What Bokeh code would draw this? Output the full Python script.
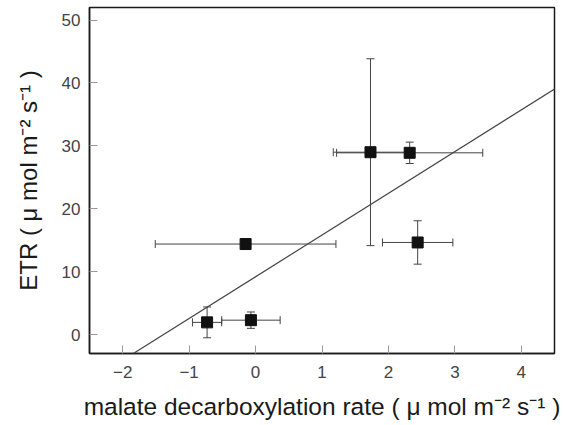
from bokeh.plotting import figure
from bokeh.models import ColumnDataSource, Whisker, TeeHead, Slope, FixedTicker, Range1d
from bokeh.embed import file_html
from bokeh.resources import INLINE

# data
x_rate = [-0.73, -0.07, -0.15, 1.73, 2.32, 2.44]
etr = [1.95, 2.3, 14.4, 29.0, 28.9, 14.65]
x_err = [0.22, 0.44, 1.36, 0.56, 1.1, 0.53]
y_err = [2.45, 1.3, 0.0, 14.85, 1.7, 3.45]
fit_slope = 6.63
fit_intercept = 9.2
x_ticks = [-2, -1, 0, 1, 2, 3, 4]
y_ticks = [0, 10, 20, 30, 40, 50]

FONT = "Liberation Sans"

p = figure(width=564, height=425, output_backend="svg", toolbar_location=None,
           x_range=Range1d(-2.5, 4.5), y_range=Range1d(-3, 52),
           min_border_left=89, min_border_right=10, min_border_top=7, min_border_bottom=72)
p.grid.visible = False
p.background_fill_color = "white"
p.border_fill_color = "white"
p.outline_line_color = "#1a1a1a"
p.outline_line_width = 1.5

for ax in (p.xaxis, p.yaxis):
    ax.axis_line_color = "#1a1a1a"
    ax.axis_line_width = 1.5
    ax.major_tick_in = 8
    ax.major_tick_out = 0
    ax.major_tick_line_color = "#999999"
    ax.minor_tick_line_color = None
    ax.major_label_text_font = FONT
    ax.major_label_text_font_size = "17px"
    ax.major_label_text_color = "#444444"
    ax.axis_label_text_font = FONT
    ax.axis_label_text_font_style = "normal"
    ax.axis_label_text_color = "#1a1a1a"

p.xaxis.axis_label_text_font_size = "24.5px"
p.yaxis.axis_label_text_font_size = "24px"
p.xaxis.ticker = FixedTicker(ticks=x_ticks)
p.yaxis.ticker = FixedTicker(ticks=y_ticks)
p.xaxis.major_label_standoff = 12
p.yaxis.major_label_standoff = 9
p.xaxis.axis_label = "malate decarboxylation rate ( \u03bc mol m\u207b\u00b2 s\u207b\u00b9 )"
p.yaxis.axis_label = "ETR ( \u03bc mol m\u207b\u00b2 s\u207b\u00b9 )"
p.xaxis.axis_label_standoff = 12
p.yaxis.axis_label_standoff = 17

# regression line
p.add_layout(Slope(gradient=fit_slope, y_intercept=fit_intercept,
                   line_color="#444444", line_width=1.2))

# error bars
xs_lo = [a - e for a, e in zip(x_rate, x_err)]
xs_hi = [a + e for a, e in zip(x_rate, x_err)]
hsrc = ColumnDataSource(dict(y=etr, lower=xs_lo, upper=xs_hi))
p.add_layout(Whisker(source=hsrc, base="y", lower="lower", upper="upper", dimension="width",
                     line_color="#444444", line_width=1,
                     lower_head=TeeHead(size=8, line_color="#444444", line_width=1),
                     upper_head=TeeHead(size=8, line_color="#444444", line_width=1)))

vx = [a for a, e in zip(x_rate, y_err) if e > 0]
vlo = [b - e for b, e in zip(etr, y_err) if e > 0]
vhi = [b + e for b, e in zip(etr, y_err) if e > 0]
vsrc = ColumnDataSource(dict(x=vx, lower=vlo, upper=vhi))
p.add_layout(Whisker(source=vsrc, base="x", lower="lower", upper="upper", dimension="height",
                     line_color="#444444", line_width=1,
                     lower_head=TeeHead(size=8, line_color="#444444", line_width=1),
                     upper_head=TeeHead(size=8, line_color="#444444", line_width=1)))

p.scatter(x_rate, etr, marker="square", size=11, fill_color="#111111", line_color="#111111")

open("out.html", "w").write(file_html(p, INLINE))
